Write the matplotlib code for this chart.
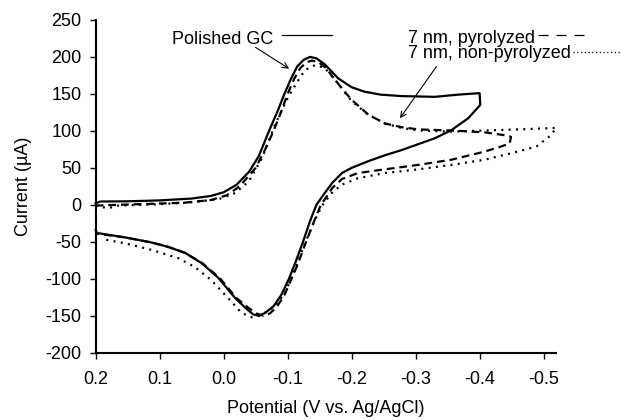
import matplotlib
matplotlib.use("Agg")
import matplotlib.pyplot as plt

plt.rcParams['font.family'] = ['Liberation Sans', 'DejaVu Sans']

# ---- data ----
E_gc = [0.200, 0.193, 0.150, 0.100, 0.050, 0.020, 0.000, -0.020, -0.040, -0.055, -0.071, -0.085,
        -0.095, -0.105, -0.115, -0.125, -0.135, -0.145, -0.158, -0.179, -0.200, -0.220, -0.245, -0.278,
        -0.330, -0.367, -0.400, -0.401,
        -0.382, -0.356, -0.330, -0.304, -0.278, -0.252, -0.226, -0.200, -0.185, -0.170, -0.158,
        -0.145, -0.135, -0.124, -0.113, -0.102, -0.090, -0.078, -0.065, -0.055, -0.046, -0.035,
        -0.018, 0.008, 0.034, 0.060, 0.086, 0.112, 0.154, 0.198, 0.200]
I_gc = [2, 4.5, 4.8, 6, 8.5, 12, 17, 27, 45, 66, 100, 128,
        150, 170, 187, 196, 200, 198, 190, 171, 159, 153, 149, 147,
        146, 149, 151, 135,
        117, 101, 90, 82, 74, 67, 59, 50, 43, 30, 16,
        0, -22, -50, -76, -100, -122, -137, -146, -150, -148, -140,
        -126, -99, -79, -65, -57, -51, -44, -38, -34]

E_pyr = [0.200, 0.165, 0.112, 0.060, 0.020, -0.005, -0.025, -0.050, -0.065, -0.078, -0.090,
         -0.100, -0.110, -0.120, -0.130, -0.138, -0.148, -0.160, -0.175, -0.190, -0.200, -0.226,
         -0.252, -0.278, -0.304, -0.356, -0.408, -0.440, -0.449, -0.447,
         -0.434, -0.408, -0.356, -0.304, -0.252, -0.210, -0.185, -0.170, -0.160, -0.152, -0.140,
         -0.128, -0.116, -0.106, -0.095, -0.083, -0.072, -0.062, -0.052, -0.040, -0.020, 0.006,
         0.033, 0.060, 0.086, 0.112, 0.154, 0.198]
I_pyr = [-1, 0, 1.4, 3, 6.5, 13, 25, 50, 75, 100, 126,
         150, 170, 185, 193, 195, 193, 185, 168, 152, 142, 122,
         110, 105, 102, 100.5, 98, 94, 92, 83,
         79, 72, 61, 54, 48, 43, 35, 23, 10, 0, -25,
         -52, -80, -100, -122, -138, -147, -150, -147, -140, -126, -99,
         -79, -65, -57, -51, -44, -39]

E_non = [0.200, 0.180, 0.165, 0.112, 0.060, 0.008, -0.018, -0.039, -0.060, -0.080, -0.101,
         -0.117, -0.127, -0.143, -0.158, -0.179, -0.200, -0.226, -0.252, -0.278, -0.304,
         -0.356, -0.408, -0.460, -0.520,
         -0.510, -0.489, -0.460, -0.408, -0.356, -0.304, -0.252, -0.210, -0.184, -0.169,
         -0.153, -0.143, -0.127, -0.111, -0.096, -0.080, -0.059, -0.044, -0.028, -0.007,
         0.019, 0.045, 0.071, 0.112, 0.154, 0.185]
I_non = [-1.4, -4.5, -1, 0.5, 2.7, 7.6, 16, 31.5, 63, 108, 146,
         169, 182, 189, 185, 164, 140, 122, 110, 104, 100.5,
         99, 100.5, 102, 104,
         93, 79, 72, 61, 54, 48, 43, 36, 27, 16,
         -2, -20, -52, -88, -119, -137, -149, -152, -146, -126,
         -102, -84, -72, -61, -52, -47]

x_ticks = [0.2, 0.1, 0.0, -0.1, -0.2, -0.3, -0.4, -0.5]
x_labels = ["0.2", "0.1", "0.0", "-0.1", "-0.2", "-0.3", "-0.4", "-0.5"]
y_ticks = [-200, -150, -100, -50, 0, 50, 100, 150, 200, 250]
y_labels = [str(v) for v in y_ticks]

FS = 13

fig = plt.figure(figsize=(6.21, 4.19), dpi=100)
ax = fig.add_axes([0.154, 0.158, 0.742, 0.7945])

ax.plot(E_gc, I_gc, color='black', lw=1.6, solid_joinstyle='round', clip_on=False)
ax.plot(E_pyr, I_pyr, color='black', lw=1.6, linestyle=(0, (3.5, 2.2)), clip_on=False)
ax.plot(E_non, I_non, color='black', lw=1.6, linestyle=(0, (0.9, 2.4)), clip_on=False)

ax.set_xlim(0.2, -0.52)
ax.set_ylim(-200, 250)
ax.set_xticks(x_ticks)
ax.set_xticklabels(x_labels)
ax.set_yticks(y_ticks)
ax.set_yticklabels(y_labels)

for s in ['top', 'right']:
    ax.spines[s].set_visible(False)
for s in ['left', 'bottom']:
    ax.spines[s].set_linewidth(1.5)
ax.tick_params(axis='both', direction='out', length=4, width=1, labelsize=FS)
ax.tick_params(axis='x', pad=9)
ax.tick_params(axis='y', pad=6)

ax.set_xlabel("Potential (V vs. Ag/AgCl)", fontsize=FS, labelpad=9)
ax.set_ylabel("Current (\u00b5A)", fontsize=FS, labelpad=10)

# labels and keys
ax.text(0.081, 224, "Polished GC", fontsize=FS, va='center', ha='left')
ax.plot([-0.091, -0.169], [229, 229], color='black', lw=0.9, clip_on=False)
ax.text(-0.288, 225, "7 nm, pyrolyzed", fontsize=FS, va='center', ha='left')
ax.plot([-0.492, -0.574], [229, 229], color='black', lw=0.9, linestyle=(0, (8, 6.4)), clip_on=False)
ax.text(-0.288, 204, "7 nm, non-pyrolyzed", fontsize=FS, va='center', ha='left')
ax.plot([-0.546, -0.620], [207, 207], color='black', lw=0.9, linestyle=(0, (1, 2)), clip_on=False)

ax.annotate("", xy=(-0.106, 182), xytext=(-0.046, 215),
            arrowprops=dict(arrowstyle='->', color='black', lw=0.8))
ax.annotate("", xy=(-0.273, 114), xytext=(-0.335, 190),
            arrowprops=dict(arrowstyle='->', color='black', lw=0.8))

fig.savefig("out.png", dpi=100)
